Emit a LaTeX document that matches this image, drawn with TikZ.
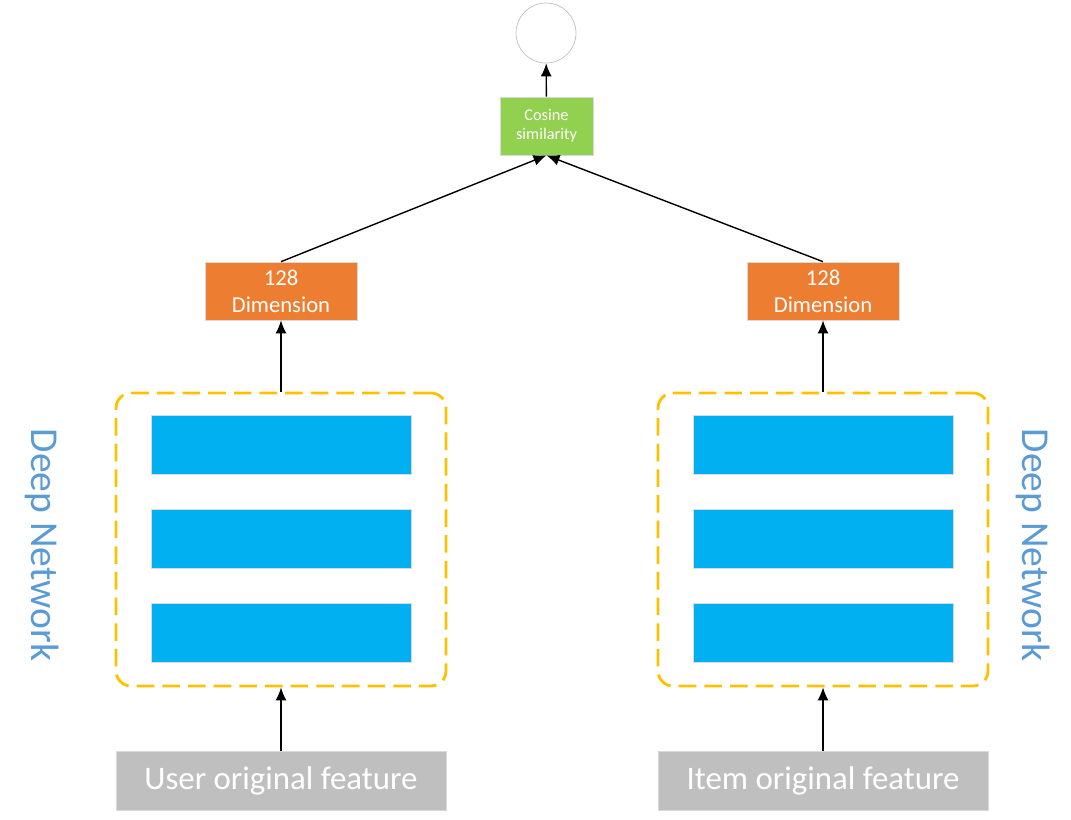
\documentclass[tikz,border=0pt]{standalone}
\usepackage{fontspec}
\setmainfont{Carlito}
\usetikzlibrary{arrows.meta}
\definecolor{simgreen}{HTML}{92D050}
\definecolor{dimorange}{HTML}{ED7D31}
\definecolor{layerblue}{HTML}{00B0F0}
\definecolor{featgrey}{HTML}{BFBFBF}
\definecolor{netyellow}{HTML}{FFC000}
\definecolor{labelblue}{HTML}{5B9BD5}
\tikzset{
  box/.style={draw=black!15, line width=0.4pt, text=white, align=center, inner sep=0pt},
  simbox/.style={box, fill=simgreen, minimum width=1.86cm, minimum height=1.16cm, font=\fontsize{9.3}{11}\selectfont},
  dimbox/.style={box, fill=dimorange, minimum width=3.04cm, minimum height=1.16cm, font=\fontsize{12.9}{15.5}\selectfont},
  layer/.style={box, fill=layerblue, minimum width=5.2cm, minimum height=1.18cm},
  featbox/.style={box, fill=featgrey, minimum width=6.6cm, minimum height=1.18cm, font=\fontsize{18.7}{22}\selectfont},
  netbox/.style={draw=netyellow, line width=1.6pt, dash pattern=on 10pt off 4.6pt, rounded corners=0.3cm, minimum width=6.6cm, minimum height=5.86cm, inner sep=0pt},
  netlabel/.style={text=labelblue, rotate=-90, font=\fontsize{22.5}{27}\selectfont},
  output/.style={circle, draw=black!25, line width=0.4pt, minimum size=1.2cm},
  link/.style={-{Latex[length=2.6mm,width=2.2mm]}, line width=0.8pt}
}
\begin{document}
\begin{tikzpicture}[x=0.02cm, y=-0.02cm]
  \useasboundingbox (0,0) rectangle (1071,819);
  \node[output] (out) at (546,33) {};
  \node[simbox] (sim) at (546.5,126) {Cosine\\similarity};
  % user side
  \node[dimbox] (udim) at (281,291) {128\\Dimension};
  \node[netbox] (unet) at (281,539.5) {};
  \node[layer] (ul1) at (281,444.5) {};
  \node[layer] (ul2) at (281,538.5) {};
  \node[layer] (ul3) at (281,632.5) {};
  \node[featbox] (ufeat) at (281,780.5) {User original feature};
  \node[netlabel] (ulabel) at (42,545) {Deep Network};
  % item side
  \node[dimbox] (idim) at (823,291) {128\\Dimension};
  \node[netbox] (inet) at (823,539.5) {};
  \node[layer] (il1) at (823,444.5) {};
  \node[layer] (il2) at (823,538.5) {};
  \node[layer] (il3) at (823,632.5) {};
  \node[featbox] (ifeat) at (823,780.5) {Item original feature};
  \node[netlabel] (ilabel) at (1033,545) {Deep Network};
  \begin{scope}[link]
    \draw (sim) to (out);
    \draw (udim.north) to (sim.south);
    \draw (idim.north) to (sim.south);
    \draw (unet) to (udim);
    \draw (inet) to (idim);
    \draw (ufeat) to (unet);
    \draw (ifeat) to (inet);
  \end{scope}
\end{tikzpicture}
\end{document}
